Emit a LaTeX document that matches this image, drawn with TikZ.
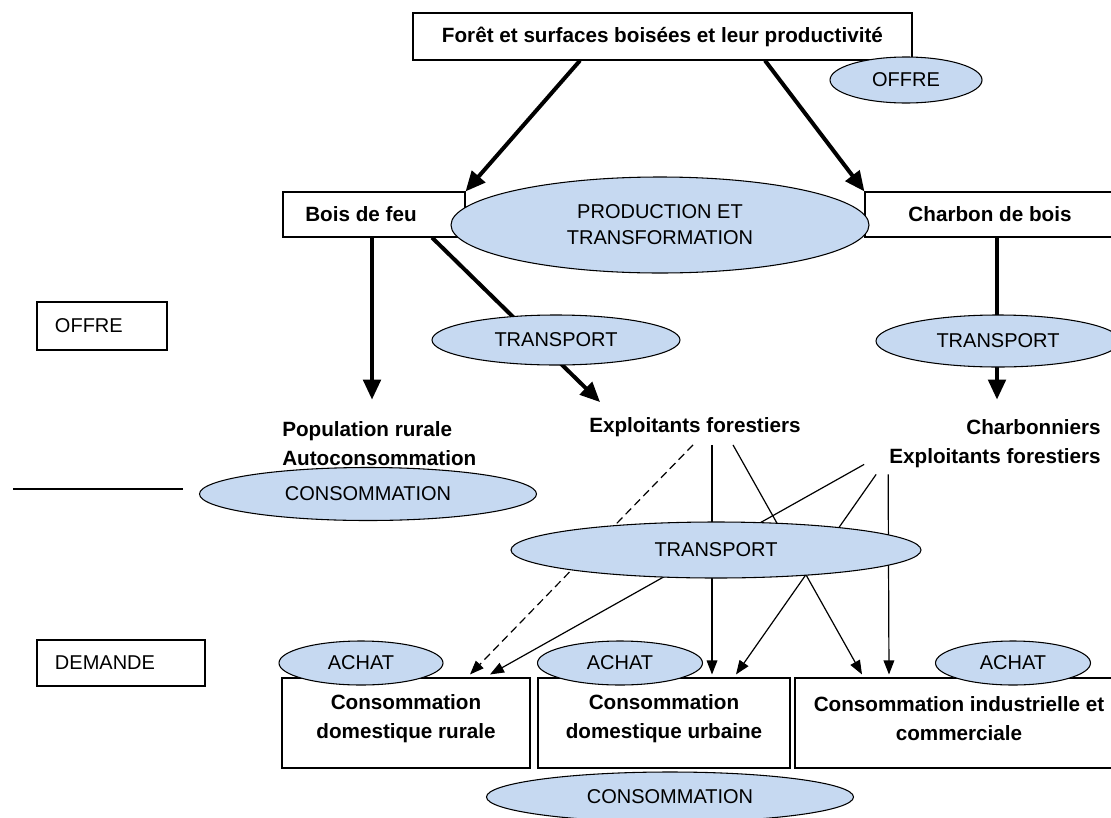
\documentclass[tikz,border=0pt]{standalone}
\usepackage{fontspec}
\setmainfont{Liberation Sans}
\usetikzlibrary{arrows.meta,calc,shapes.geometric,backgrounds}
\definecolor{bleu}{RGB}{198,217,241}
\tikzset{
  boite/.style={draw, line width=0.8pt, fill=white, inner sep=0pt, align=center, font=\bfseries\fontsize{15.5}{21.75}\selectfont},
  cadre/.style={draw, line width=0.8pt, fill=white, inner xsep=13.5pt, inner ysep=0pt, align=left, font=\fontsize{15}{18}\selectfont},
  bulle/.style={ellipse, draw, line width=0.8pt, fill=bleu, inner sep=0pt, align=center, font=\fontsize{15}{19.5}\selectfont},
  titre/.style={inner sep=0pt, font=\bfseries\fontsize{15.5}{21.75}\selectfont},
  fleche/.style={line width=3pt, -{Triangle[length=15pt,width=13pt]}},
  trait/.style={line width=0.9pt, -{Triangle[length=10.5pt,width=8pt]}},
  tirets/.style={dash pattern=on 6pt off 3.5pt},
}
\begin{document}
\begin{tikzpicture}[x=0.75pt,y=-0.75pt]
\useasboundingbox (0,0) rectangle (1111,818);
\node[boite, minimum width=374.25pt, minimum height=35.25pt] (foret) at (662.5,36.5) {Forêt et surfaces boisées et leur productivité};
\node[bulle, minimum width=114pt, minimum height=34.5pt] (offre) at (906,80) {OFFRE};
\node[boite, minimum width=136.5pt, minimum height=33.75pt] (bois) at (374,214.5) {};
\node[titre] (boist) at (361,214.5) {Bois de feu};
\node[boite, minimum width=187.5pt, minimum height=33.75pt] (charbon) at (990,214.5) {Charbon de bois};
\node[bulle, minimum width=313.5pt, minimum height=72pt] (prod) at (660,225) {PRODUCTION ET\\TRANSFORMATION};
\node[bulle, minimum width=186pt, minimum height=37.5pt] (transpA) at (556,340) {TRANSPORT};
\node[bulle, minimum width=183pt, minimum height=39pt] (transpB) at (998,341) {TRANSPORT};
\node[cadre, text width=70.5pt, minimum height=36pt] (offreB) at (102,326) {OFFRE};
\node[titre, anchor=west, align=left] (pop) at (282,444) {Population rurale\\Autoconsommation};
\node[titre] (expl) at (695,427) {Exploitants forestiers};
\node[titre, anchor=east, align=right] (charb) at (1101,444) {Charbonniers\\Exploitants forestiers};
\coordinate (ligneA) at (13,489);
\coordinate (ligneB) at (183,489);
\node[bulle, minimum width=252.75pt, minimum height=39.75pt] (consA) at (368,494) {CONSOMMATION};
\node[bulle, minimum width=307.5pt, minimum height=42pt] (transpC) at (716,550) {TRANSPORT};
\node[cadre, text width=99pt, minimum height=34.5pt] (demande) at (121,663) {DEMANDE};
\node[boite, minimum width=186pt, minimum height=67.5pt] (rurale) at (406,723) {};
\node[titre, align=center] (ruralet) at (406,719) {Consommation\\domestique rurale};
\node[boite, minimum width=189pt, minimum height=67.5pt] (urbaine) at (664,723) {};
\node[titre, align=center] (urbainet) at (664,719) {Consommation\\domestique urbaine};
\node[boite, minimum width=243.75pt, minimum height=67.5pt] (indus) at (957.5,723) {};
\node[titre, align=center] (indust) at (959,719) {Consommation industrielle et\\commerciale};
\node[bulle, minimum width=123pt, minimum height=33pt] (achatA) at (361,663) {ACHAT};
\node[bulle, minimum width=123.75pt, minimum height=33pt] (achatB) at (620,663) {ACHAT};
\node[bulle, minimum width=116.25pt, minimum height=33pt] (achatC) at (1013,663) {ACHAT};
\node[bulle, minimum width=275.25pt, minimum height=37.5pt] (consB) at (670,797) {CONSOMMATION};
\begin{scope}[on background layer]
\draw[fleche] ($(foret.south)+(-82.5,0)$) -- (bois.north east);
\draw[fleche] ($(foret.south)+(102.5,0)$) -- (charbon.north west);
\draw[fleche] ($(bois.south)+(-2,0)$) -- ($(pop.north west)+(90,-22)$);
\draw[fleche] ($(bois.south)+(58,0)$) -- ($(expl.north west)+(11,-15)$);
\draw[fleche] ($(charbon.south)+(7,0)$) -- ($(charb.north east)+(-104,-20)$);
\draw[line width=1pt] (ligneA) -- (ligneB);
\draw[trait, tirets] ($(expl.south)+(-2,8)$) -- ($(rurale.north)+(64,-3)$);
\draw[trait] ($(expl.south)+(17,8)$) -- ($(urbaine.north)+(48,-3)$);
\draw[trait] ($(expl.south)+(38,8)$) -- ($(indus.north)+(-95.5,-3)$);
\draw[trait] ($(charb.south west)+(-25,-4)$) -- ($(rurale.north)+(84,-3)$);
\draw[trait] ($(charb.south west)+(-13,6)$) -- ($(urbaine.north)+(72,-3)$);
\draw[trait] ($(charb.south west)+(-1,6)$) -- ($(indus.north)+(-68.5,-3)$);
\end{scope}
\end{tikzpicture}
\end{document}
